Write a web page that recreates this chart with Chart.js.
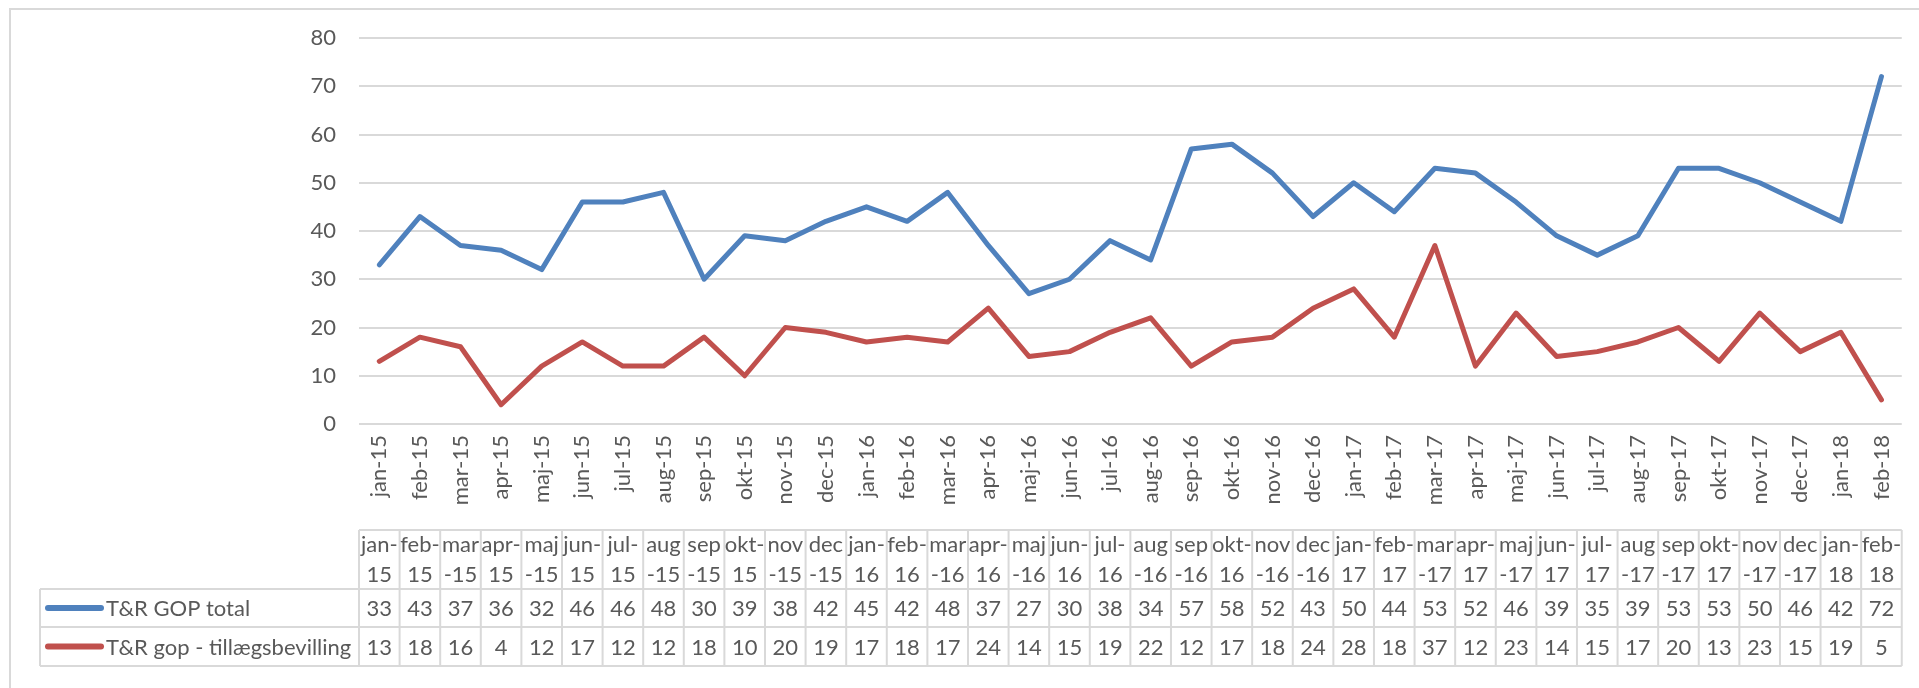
<!DOCTYPE html>
<html>
<head>
<meta charset="utf-8">
<title>T&amp;R GOP</title>
<script src="https://cdn.jsdelivr.net/npm/chart.js"></script>
<style>
    html, body { margin: 0; padding: 0; background: #ffffff; overflow: hidden; }
    canvas { display: block; }
</style>
</head>
<body>
<canvas id="lineChart" width="1919" height="688"></canvas>
<script>
// data
const months = ['jan', 'feb', 'mar', 'apr', 'maj', 'jun', 'jul', 'aug', 'sep', 'okt', 'nov', 'dec'];
const categories = [
    'jan-15', 'feb-15', 'mar-15', 'apr-15', 'maj-15', 'jun-15', 'jul-15', 'aug-15', 'sep-15', 'okt-15', 'nov-15', 'dec-15',
    'jan-16', 'feb-16', 'mar-16', 'apr-16', 'maj-16', 'jun-16', 'jul-16', 'aug-16', 'sep-16', 'okt-16', 'nov-16', 'dec-16',
    'jan-17', 'feb-17', 'mar-17', 'apr-17', 'maj-17', 'jun-17', 'jul-17', 'aug-17', 'sep-17', 'okt-17', 'nov-17', 'dec-17',
    'jan-18', 'feb-18'
];
const gopTotal = [33, 43, 37, 36, 32, 46, 46, 48, 30, 39, 38, 42, 45, 42, 48, 37, 27, 30, 38, 34, 57, 58, 52, 43, 50, 44, 53, 52, 46, 39, 35, 39, 53, 53, 50, 46, 42, 72];
const gopTillaeg = [13, 18, 16, 4, 12, 17, 12, 12, 18, 10, 20, 19, 17, 18, 17, 24, 14, 15, 19, 22, 12, 17, 18, 24, 28, 18, 37, 12, 23, 14, 15, 17, 20, 13, 23, 15, 19, 5];
const seriesNames = ['T&R GOP total', 'T&R gop - tillægsbevilling'];
const yTicks = [0, 10, 20, 30, 40, 50, 60, 70, 80];

// måneder der ombrydes før bindestregen i tabellen
const wideMonths = ['mar', 'maj', 'aug', 'sep', 'nov', 'dec'];

const BLUE = '#4f81bd';
const RED = '#c0504d';
const GRID = '#d9d9d9';
const TEXT = '#595959';
const FONT = 'Lato, "Open Sans", sans-serif';

function headerLines(label) {
    const parts = label.split('-');
    if (wideMonths.indexOf(parts[0]) >= 0) {
        return [parts[0], '-' + parts[1]];
    }
    return [parts[0] + '-', parts[1]];
}

// ramme rundt om diagrammet
const framePlugin = {
    id: 'frame',
    beforeDraw(chart) {
        const ctx = chart.ctx;
        ctx.save();
        ctx.fillStyle = '#ffffff';
        ctx.fillRect(0, 0, chart.width, chart.height);
        ctx.strokeStyle = GRID;
        ctx.lineWidth = 2;
        ctx.strokeRect(10, 9, chart.width + 20, chart.height + 20);
        ctx.restore();
    }
};

// datatabel under x-aksen
const dataTablePlugin = {
    id: 'dataTable',
    afterDraw(chart) {
        const ctx = chart.ctx;
        const x = chart.scales.x;
        const area = chart.chartArea;
        const colW = (area.right - area.left) / categories.length;
        const headTop = 530, row1Top = 589, row2Top = 627, bottom = 666;
        const legendLeft = 40;
        const rows = [gopTotal, gopTillaeg];
        const colors = [BLUE, RED];

        ctx.save();
        ctx.strokeStyle = GRID;
        ctx.lineWidth = 2;

        // vandrette linjer
        ctx.beginPath();
        ctx.moveTo(area.left, headTop);
        ctx.lineTo(area.right, headTop);
        [row1Top, row2Top, bottom].forEach(y => {
            ctx.moveTo(legendLeft, y);
            ctx.lineTo(area.right, y);
        });
        // lodrette linjer
        ctx.moveTo(legendLeft, row1Top);
        ctx.lineTo(legendLeft, bottom);
        for (let i = 0; i <= categories.length; i++) {
            const cx = area.left + i * colW;
            ctx.moveTo(cx, headTop);
            ctx.lineTo(cx, bottom);
        }
        ctx.stroke();

        ctx.fillStyle = TEXT;
        ctx.font = '22px ' + FONT;
        ctx.textAlign = 'center';
        ctx.textBaseline = 'middle';

        categories.forEach((label, i) => {
            const cx = x.getPixelForValue(i);
            const lines = headerLines(label);
            ctx.fillText(lines[0], cx, 545);
            ctx.fillText(lines[1], cx, 575);
            rows.forEach((values, r) => {
                const top = r === 0 ? row1Top : row2Top;
                const next = r === 0 ? row2Top : bottom;
                ctx.fillText(String(values[i]), cx, (top + next) / 2 + 1);
            });
        });

        // serienavne med linjeprøve
        ctx.textAlign = 'left';
        seriesNames.forEach((name, r) => {
            const top = r === 0 ? row1Top : row2Top;
            const next = r === 0 ? row2Top : bottom;
            const cy = (top + next) / 2;
            ctx.strokeStyle = colors[r];
            ctx.lineWidth = 6;
            ctx.lineCap = 'round';
            ctx.beginPath();
            ctx.moveTo(48, cy);
            ctx.lineTo(101, cy);
            ctx.stroke();
            ctx.fillStyle = TEXT;
            ctx.fillText(name, 106, cy + 1);
        });
        ctx.restore();
    }
};

function initLineChart() {
    const canvas = document.getElementById('lineChart');
    const ctx = canvas.getContext('2d');

    const data = {
        labels: categories,
        datasets: [{
            label: seriesNames[0],
            data: gopTotal,
            borderColor: BLUE,
            backgroundColor: BLUE,
            borderWidth: 5,
            pointRadius: 0,
            tension: 0,
            borderJoinStyle: 'round',
            borderCapStyle: 'round'
        }, {
            label: seriesNames[1],
            data: gopTillaeg,
            borderColor: RED,
            backgroundColor: RED,
            borderWidth: 5,
            pointRadius: 0,
            tension: 0,
            borderJoinStyle: 'round',
            borderCapStyle: 'round'
        }]
    };

    const options = {
        responsive: false,
        animation: false,
        devicePixelRatio: 1,
        layout: {
            padding: { top: 38, right: 11, bottom: 164, left: 0 }
        },
        plugins: {
            legend: { display: false },
            tooltip: { enabled: false }
        },
        scales: {
            x: {
                offset: true,
                grid: { display: false, drawTicks: false },
                border: { display: false },
                ticks: {
                    autoSkip: false,
                    maxRotation: 90,
                    minRotation: 90,
                    padding: 11,
                    color: TEXT,
                    font: { family: FONT, size: 22 }
                },
                afterFit(scale) { scale.height = 100; }
            },
            y: {
                min: yTicks[0],
                max: yTicks[yTicks.length - 1],
                afterBuildTicks(scale) {
                    scale.ticks = yTicks.map(v => ({ value: v }));
                },
                grid: { color: GRID, lineWidth: 2, drawTicks: false },
                border: { display: false },
                ticks: {
                    padding: 23,
                    color: TEXT,
                    font: { family: FONT, size: 22 }
                },
                afterFit(scale) { scale.width = 359; }
            }
        }
    };

    new Chart(ctx, {
        type: 'line',
        data: data,
        options: options,
        plugins: [framePlugin, dataTablePlugin]
    });
}

document.addEventListener('DOMContentLoaded', initLineChart);
</script>
</body>
</html>
